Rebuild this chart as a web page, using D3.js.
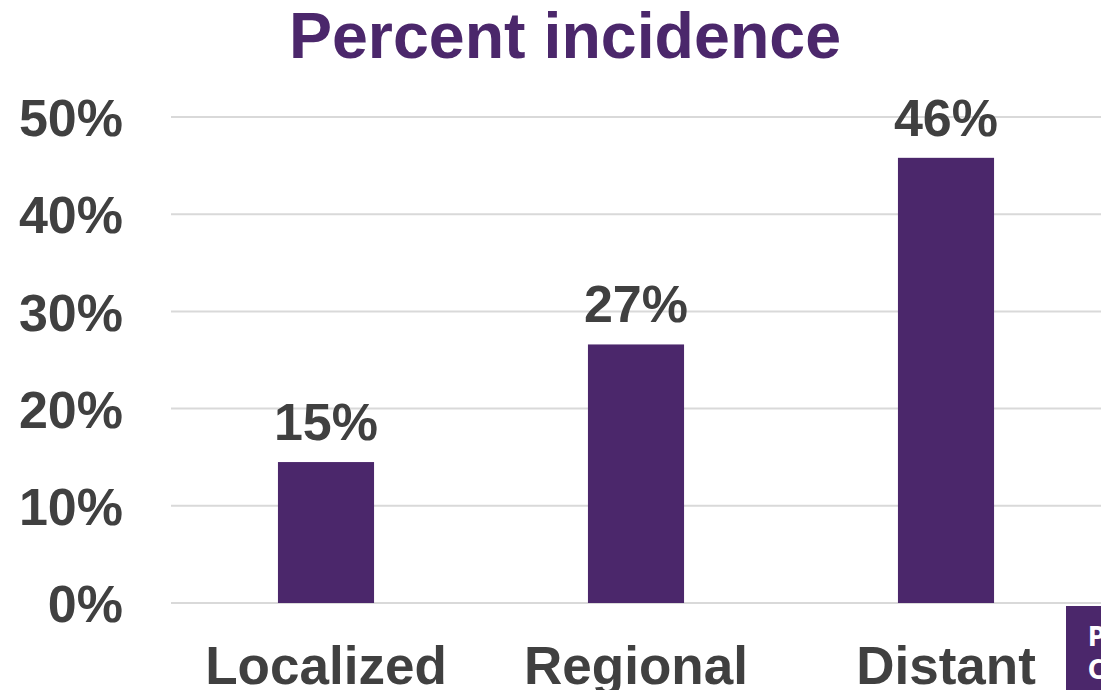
<!DOCTYPE html>
<html>
<head>
<meta charset="utf-8">
<script src="https://cdn.jsdelivr.net/npm/d3@7"></script>
<style>
  body { margin: 0; background: #fff; overflow: hidden; }
  text { font-family: "Liberation Sans", Arial, sans-serif; font-weight: bold; }
</style>
</head>
<body>
<div id="chart"></div>
<script>
// chart data
var categories = ["Localized", "Regional", "Distant"];
var values = [14.5, 26.6, 45.8];
var valueLabels = ["15%", "27%", "46%"];
var tickValues = [0, 10, 20, 30, 40, 50];

var svgWidth = 1101;
var svgHeight = 690;
var margin = { top: 117, right: 0, bottom: 87, left: 171 };
var width = svgWidth - margin.left - margin.right;
var height = svgHeight - margin.top - margin.bottom;

var purple = "#4b276b";
var grey = "#404040";

var svg = d3.select("#chart")
    .append("svg")
    .attr("width", svgWidth)
    .attr("height", svgHeight);

// title
svg.append("text")
    .attr("x", 565)
    .attr("y", 58)
    .attr("text-anchor", "middle")
    .attr("fill", purple)
    .style("font-size", "64.5px")
    .text("Percent incidence");

var chartGroup = svg.append("g")
    .attr("transform", `translate(${margin.left}, ${margin.top})`);

var xScale = d3.scaleBand()
    .domain(categories)
    .range([0, width])
    .paddingInner(0.69)
    .paddingOuter(0.345);

var yScale = d3.scaleLinear()
    .domain([0, 50])
    .range([height, 0]);

// gridlines
chartGroup.selectAll(".grid")
    .data(tickValues)
    .enter()
    .append("line")
    .attr("x1", 0)
    .attr("x2", width)
    .attr("y1", d => yScale(d))
    .attr("y2", d => yScale(d))
    .attr("stroke", "#d9d9d9")
    .attr("stroke-width", 2);

// y axis
var leftAxis = d3.axisLeft(yScale)
    .tickValues(tickValues)
    .tickSize(0)
    .tickPadding(48)
    .tickFormat(d => d + "%");

var yAxis = chartGroup.append("g").call(leftAxis);
yAxis.select(".domain").remove();
yAxis.selectAll("text")
    .attr("fill", grey)
    .attr("dy", "0.36em")
    .style("font-size", "52px");

// x axis
var bottomAxis = d3.axisBottom(xScale).tickSize(0).tickPadding(43);
var xAxis = chartGroup.append("g")
    .attr("transform", `translate(0, ${height})`)
    .call(bottomAxis);
xAxis.select(".domain").remove();
xAxis.selectAll("text")
    .attr("fill", grey)
    .attr("dy", "0.71em")
    .style("font-size", "53px");

// bars
chartGroup.selectAll(".bar")
    .data(values)
    .enter()
    .append("rect")
    .attr("x", (d, i) => xScale(categories[i]))
    .attr("y", d => yScale(d))
    .attr("width", xScale.bandwidth())
    .attr("height", d => height - yScale(d))
    .attr("fill", purple);

// value labels
chartGroup.selectAll(".label")
    .data(values)
    .enter()
    .append("text")
    .attr("x", (d, i) => xScale(categories[i]) + xScale.bandwidth() / 2)
    .attr("y", d => yScale(d) - 22)
    .attr("text-anchor", "middle")
    .attr("fill", grey)
    .style("font-size", "52px")
    .text((d, i) => valueLabels[i]);

// corner logo, cut off by the page edge as in the original slide
svg.append("rect")
    .attr("x", 1066)
    .attr("y", 606)
    .attr("width", 40)
    .attr("height", 90)
    .attr("fill", purple);
svg.append("text")
    .attr("x", 1088)
    .attr("y", 646)
    .attr("fill", "#fff")
    .style("font-family", "'DejaVu Sans Condensed', sans-serif")
    .style("font-size", "26px")
    .text("PA");
svg.append("text")
    .attr("x", 1088)
    .attr("y", 679)
    .attr("fill", "#fff")
    .style("font-family", "'DejaVu Sans Condensed', sans-serif")
    .style("font-size", "26px")
    .text("C");
</script>
</body>
</html>
